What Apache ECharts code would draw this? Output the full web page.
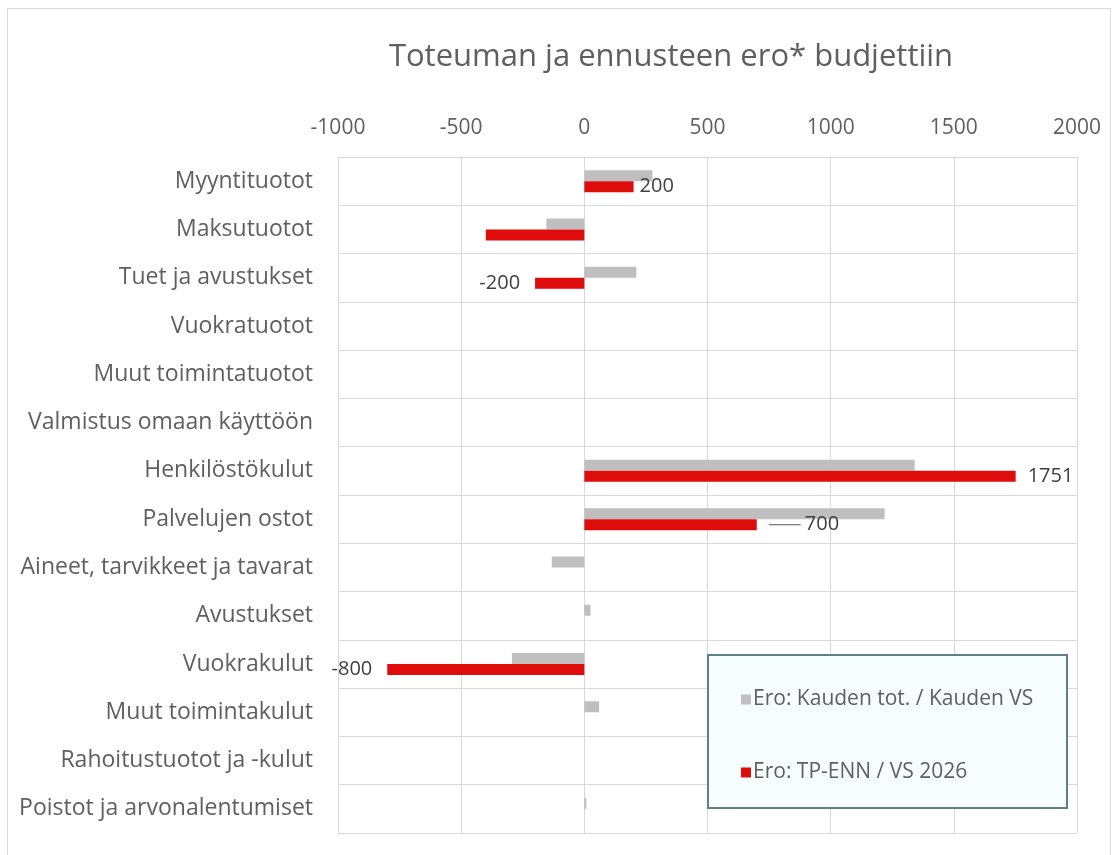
<!DOCTYPE html>
<html>
<head>
<meta charset="utf-8">
<script src="https://cdn.jsdelivr.net/npm/echarts@6/dist/echarts.min.js"></script>
<style>
  html, body { margin: 0; padding: 0; background: #fff; }
  #chart { width: 1114px; height: 855px; }
</style>
</head>
<body>
<div id="chart"></div>
<script>
// tiedot kuvasta luettuina
const categories = [
  'Myyntituotot', 'Maksutuotot', 'Tuet ja avustukset', 'Vuokratuotot',
  'Muut toimintatuotot', 'Valmistus omaan käyttöön', 'Henkilöstökulut',
  'Palvelujen ostot', 'Aineet, tarvikkeet ja tavarat', 'Avustukset',
  'Vuokrakulut', 'Muut toimintakulut', 'Rahoitustuotot ja -kulut',
  'Poistot ja arvonalentumiset'
];
const greyName = 'Ero: Kauden tot. / Kauden VS';
const redName = 'Ero: TP-ENN / VS 2026';
const greyValues = [276, -154, 211, 0, 0, 0, 1341, 1219, -132, 25, -294, 60, 0, 8];
const redValues = [200, -400, -200, 0, 0, 0, 1751, 700, 0, 0, -800, 0, 0, 0];
// mille punaisille palkeille näytetään arvo
const redLabelShown = [true, false, true, false, false, false, true, true, false, false, true, false, false, false];
const xTicks = [-1000, -500, 0, 500, 1000, 1500, 2000];

const textColor = '#5f5f5f';
const font = 'Open Sans';

const redData = redValues.map((v, i) => {
  const item = { value: v };
  if (redLabelShown[i]) {
    item.label = {
      show: true,
      position: v < 0 ? 'left' : 'right',
      distance: v < 0 ? 15 : (i === 0 ? 6 : 12),
      formatter: i === 7 ? '{line|}{v|{c}}' : '{c}'
    };
  }
  return item;
});

const chart = echarts.init(document.getElementById('chart'));
chart.setOption({
  animation: false,
  textStyle: { fontFamily: font },
  title: {
    text: 'Toteuman ja ennusteen ero* budjettiin',
    left: 666,
    top: 37,
    textAlign: 'center',
    textStyle: { fontFamily: font, fontSize: 31, fontWeight: 'normal', color: textColor }
  },
  graphic: [
    {
      type: 'rect', z: -1, silent: true,
      shape: { x: 7.5, y: 8.5, width: 1103, height: 860 },
      style: { fill: 'none', stroke: '#d9d9d9', lineWidth: 1 }
    },
    {
      type: 'rect', z: 10, silent: true,
      shape: { x: 708, y: 655, width: 359, height: 153 },
      style: { fill: '#f6fdfd', stroke: '#5f7f86', lineWidth: 2 }
    }
  ],
  legend: {
    orient: 'vertical',
    left: 736,
    top: 684,
    itemWidth: 10,
    itemHeight: 10,
    itemGap: 52,
    icon: 'rect',
    z: 20,
    textStyle: { fontFamily: font, fontSize: 21, color: textColor, padding: [0, 0, 0, -3] },
    data: [greyName, redName]
  },
  grid: { left: 338, right: 37, top: 157, bottom: 22, containLabel: false },
  xAxis: {
    type: 'value',
    position: 'top',
    min: xTicks[0],
    max: xTicks[xTicks.length - 1],
    interval: 500,
    axisLine: { show: true, lineStyle: { color: '#d9d9d9' } },
    axisTick: { show: false },
    axisLabel: { color: textColor, fontSize: 21, margin: 18, fontFamily: font, formatter: v => String(v) },
    splitLine: { show: true, lineStyle: { color: '#d9d9d9', width: 1 } }
  },
  yAxis: {
    type: 'category',
    inverse: true,
    data: categories,
    axisLine: { show: true, lineStyle: { color: '#d9d9d9' } },
    axisTick: { show: false },
    axisLabel: { color: textColor, fontSize: 23, margin: 25, fontFamily: font },
    splitLine: { show: true, lineStyle: { color: '#d9d9d9', width: 1 } }
  },
  series: [
    {
      name: greyName,
      type: 'bar',
      data: greyValues,
      barWidth: 11,
      barGap: '0%',
      itemStyle: { color: '#bfbfbf' }
    },
    {
      name: redName,
      type: 'bar',
      data: redData,
      barWidth: 11,
      itemStyle: { color: '#df0c0c' },
      label: {
        show: false,
        color: '#404040',
        fontSize: 20,
        fontFamily: font,
        rich: {
          line: { width: 32, height: 1, backgroundColor: '#595959' },
          v: { color: '#404040', fontSize: 20, fontFamily: font, padding: [0, 0, 0, 4] }
        }
      }
    }
  ]
});
</script>
</body>
</html>
